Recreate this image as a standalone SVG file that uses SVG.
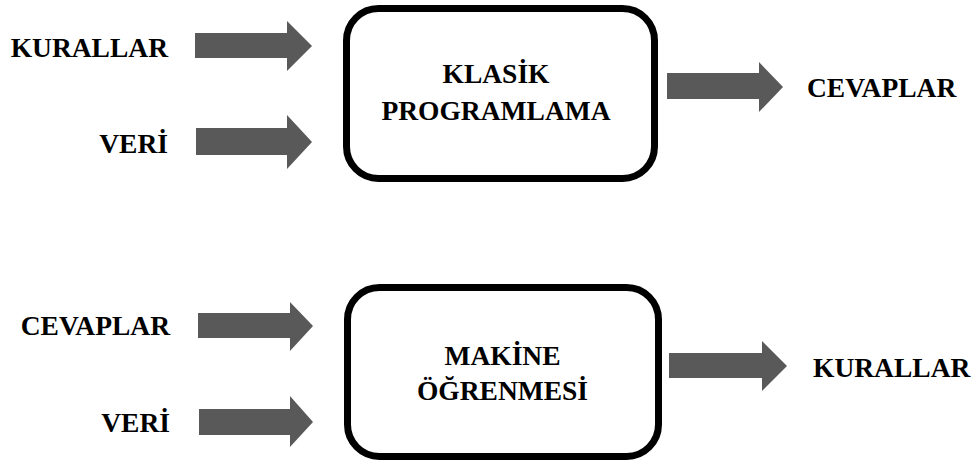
<svg xmlns="http://www.w3.org/2000/svg" width="974" height="461" viewBox="0 0 974 461">
<style>
.lbl{font-family:'Liberation Serif','DejaVu Serif',serif;font-weight:700;font-size:27.5px;fill:#000}
.box{fill:#fff;stroke:#000;stroke-width:7}
.arr{fill:#595959}
</style>
<rect width="974" height="461" fill="#fff"/>
<g id="klasik">
<rect class="box" x="346.5" y="8.5" width="308" height="170" rx="32"/>
<text class="lbl" x="496" y="83" text-anchor="middle">KLASİK</text>
<text class="lbl" x="496" y="120" text-anchor="middle">PROGRAMLAMA</text>
</g>
<g id="makine">
<rect class="box" x="347.5" y="287.5" width="311" height="169" rx="32"/>
<text class="lbl" x="502.5" y="365" text-anchor="middle">MAKİNE</text>
<text class="lbl" x="502.5" y="400" text-anchor="middle">ÖĞRENMESİ</text>
</g>
<g id="in-kurallar"><text class="lbl" x="168" y="57" text-anchor="end">KURALLAR</text></g>
<g id="in-veri1"><text class="lbl" x="168" y="153" text-anchor="end">VERİ</text></g>
<g id="out-cevaplar"><text class="lbl" x="807" y="97">CEVAPLAR</text></g>
<g id="in-cevaplar"><text class="lbl" x="170" y="335" text-anchor="end">CEVAPLAR</text></g>
<g id="in-veri2"><text class="lbl" x="170" y="432" text-anchor="end">VERİ</text></g>
<g id="out-kurallar"><text class="lbl" x="813" y="377">KURALLAR</text></g>
<g id="connectors">
<polygon class="arr" points="195,33 287,33 287,21 312,46 287,71 287,58 195,58"/>
<polygon class="arr" points="196,128 287,128 287,115 312,142 287,169 287,155 196,155"/>
<polygon class="arr" points="667,73 759,73 759,62 783,87 759,112 759,99 667,99"/>
<polygon class="arr" points="198,313 290,313 290,302 313,326 290,351 290,338 198,338"/>
<polygon class="arr" points="199,409 290,409 290,396 313,422 290,447 290,435 199,435"/>
<polygon class="arr" points="669,353 762,353 762,341 787,366 762,391 762,378 669,378"/>
</g>
</svg>
